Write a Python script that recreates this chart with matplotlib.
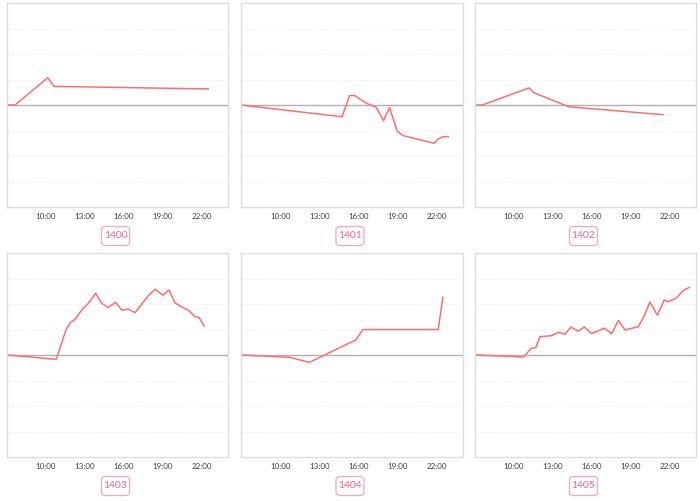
import matplotlib.pyplot as plt
from matplotlib.patches import FancyBboxPatch

plt.rcParams['font.family'] = ['Lato', 'DejaVu Sans']

names = ['1400', '1401', '1402', '1403', '1404', '1405']

# hours of day and change values, one pair per panel
h1400 = [7.03, 7.62, 10.13, 10.62, 22.49]
v1400 = [0, 0, 1.07, 0.73, 0.63]

h1401 = [7.0, 14.74, 15.31, 15.72, 16.28, 16.74, 17.36, 17.9, 18.38, 18.95,
         19.41, 21.79, 22.10, 22.49, 22.87]
v1401 = [0, -0.46, 0.37, 0.37, 0.17, 0.04, -0.09, -0.61, -0.10, -1.02,
         -1.2, -1.50, -1.33, -1.24, -1.24]

h1402 = [7.05, 7.56, 11.15, 11.54, 14.23, 21.46]
v1402 = [0, 0, 0.67, 0.48, -0.07, -0.38]

h1403 = [7.1, 10.79, 11.56, 11.90, 12.23, 12.79, 13.26, 13.82, 14.28, 14.79,
         15.36, 15.82, 16.33, 16.85, 17.41, 17.92, 18.38, 19.0, 19.46, 19.92,
         20.49, 20.95, 21.46, 21.77, 22.15]
v1403 = [0, -0.17, 1.02, 1.28, 1.40, 1.79, 2.03, 2.42, 2.03, 1.86,
         2.07, 1.76, 1.80, 1.66, 2.03, 2.35, 2.58, 2.35, 2.55, 2.05,
         1.87, 1.76, 1.50, 1.48, 1.14]

h1404 = [7.0, 10.74, 12.23, 15.82, 16.33, 22.1, 22.46]
v1404 = [0, -0.09, -0.29, 0.60, 1.0, 1.0, 2.26]

h1405 = [7.13, 10.72, 11.31, 11.69, 12.0, 12.9, 13.41, 13.92, 14.38, 14.95,
         15.41, 15.97, 16.95, 17.51, 18.03, 18.54, 19.56, 20.0, 20.46, 21.03,
         21.56, 21.87, 22.51, 23.03, 23.49]
v1405 = [0, -0.08, 0.25, 0.30, 0.72, 0.76, 0.89, 0.81, 1.10, 0.93,
         1.10, 0.84, 1.05, 0.84, 1.35, 0.98, 1.11, 1.52, 2.08, 1.56,
         2.16, 2.09, 2.24, 2.54, 2.65]

series = [(h1400, v1400), (h1401, v1401), (h1402, v1402),
          (h1403, v1403), (h1404, v1404), (h1405, v1405)]

tick_hours = [10, 13, 16, 19, 22]
tick_labels = ['10:00', '13:00', '16:00', '19:00', '22:00']

W, H = 700, 501
fig = plt.figure(figsize=(W / 100, H / 100), dpi=100)

cols = [(7, 228), (241, 463), (475, 696)]
rows = [(3, 207), (253, 457)]
label_y = [236, 486]

line_color = '#ff6e6e'
pink = '#f0668c'

for i, (hrs, vals) in enumerate(series):
    r, c = divmod(i, 3)
    x0, x1 = cols[c]
    y0, y1 = rows[r]
    ax = fig.add_axes([x0 / W, 1 - y1 / H, (x1 - x0) / W, (y1 - y0) / H])
    ax.plot(hrs, vals, color=line_color, lw=1.1)
    ax.axhline(0, color='#b0b0b0', lw=1.0, zorder=1)
    ax.set_xlim(7, 24)
    ax.set_ylim(-4, 4)
    ax.set_yticks([-3, -2, -1, 1, 2, 3])
    ax.yaxis.grid(True, color='#f0f0f0', lw=0.6, ls=(0, (3, 2)))
    ax.set_yticklabels([])
    ax.set_xticks(tick_hours)
    ax.set_xticklabels(tick_labels, fontsize=5.8, color='#444444')
    ax.tick_params(length=0, pad=4)
    ax.tick_params(axis='y', length=0)
    for s in ax.spines.values():
        s.set_color('#dddddd')
        s.set_linewidth(1.0)

    cx = (x0 + x1) / 2 - 2
    cy = label_y[r]
    bw, bh = 28, 19
    box = FancyBboxPatch(((cx - bw / 2) / W, 1 - (cy + bh / 2) / H), bw / W, bh / H,
                         boxstyle='round,pad=0,rounding_size=0.006',
                         transform=fig.transFigure, fc='white', ec='#f7a8bc', lw=0.9)
    fig.patches.append(box)
    fig.text(cx / W, 1 - cy / H, names[i], ha='center', va='center',
             fontsize=7.5, color=pink)

fig.savefig('out.png', dpi=100)
